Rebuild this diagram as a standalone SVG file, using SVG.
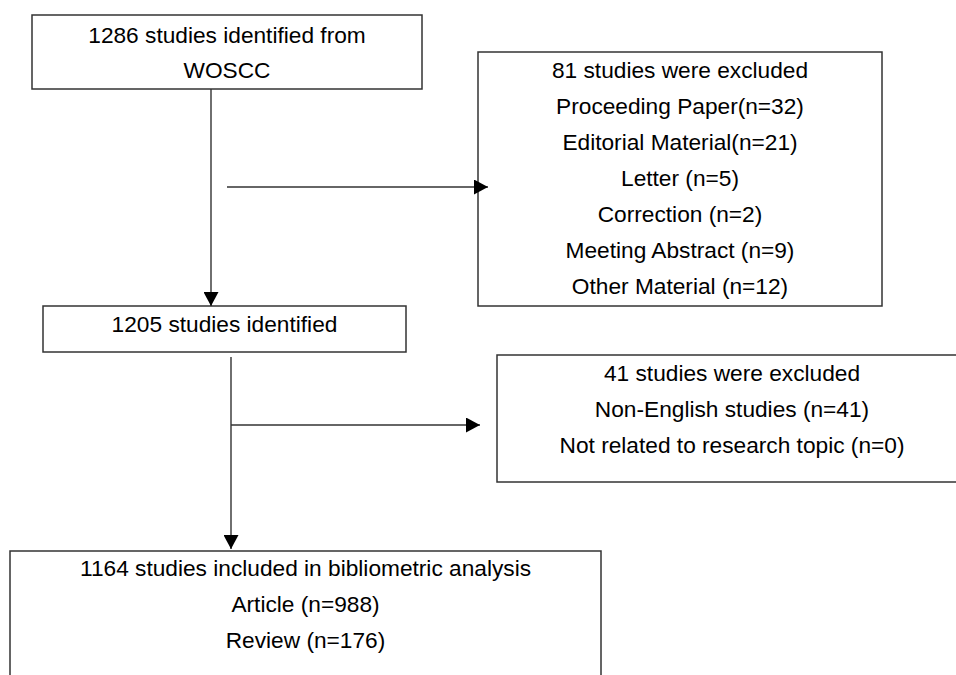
<svg xmlns="http://www.w3.org/2000/svg" width="956" height="675" viewBox="0 0 956 675">
  <style>
    .box { fill: #ffffff; stroke: #333333; stroke-width: 1.5; }
    .lbl { font-family: "Liberation Sans", Arial, sans-serif; font-size: 22.7px; fill: #000000; text-anchor: middle; }
    .conn { stroke: #333333; stroke-width: 1.4; fill: none; }
  </style>
  <defs>
    <marker id="arrow" markerUnits="userSpaceOnUse" markerWidth="14" markerHeight="15" refX="14" refY="7.5" orient="auto">
      <path d="M0,0 L14,7.5 L0,15 Z" fill="#000000"/>
    </marker>
  </defs>
  <rect width="956" height="675" fill="#ffffff"/>

  <g id="node-woscc">
    <rect class="box" x="32" y="15" width="390" height="74"/>
    <text class="lbl" x="227" y="43">1286 studies identified from</text>
    <text class="lbl" x="227" y="78">WOSCC</text>
  </g>

  <g id="node-excluded1">
    <rect class="box" x="478" y="52" width="404" height="254"/>
    <text class="lbl" x="680" y="78">81 studies were excluded</text>
    <text class="lbl" x="680" y="114">Proceeding Paper(n=32)</text>
    <text class="lbl" x="680" y="150">Editorial Material(n=21)</text>
    <text class="lbl" x="680" y="186">Letter (n=5)</text>
    <text class="lbl" x="680" y="222">Correction (n=2)</text>
    <text class="lbl" x="680" y="258">Meeting Abstract (n=9)</text>
    <text class="lbl" x="680" y="294">Other Material (n=12)</text>
  </g>

  <g id="node-identified">
    <rect class="box" x="43" y="306" width="363" height="46"/>
    <text class="lbl" x="224.5" y="332">1205 studies identified</text>
  </g>

  <g id="node-excluded2">
    <rect class="box" x="497" y="355" width="470" height="127"/>
    <text class="lbl" x="732" y="381">41 studies were excluded</text>
    <text class="lbl" x="732" y="417">Non-English studies (n=41)</text>
    <text class="lbl" x="732" y="453">Not related to research topic (n=0)</text>
  </g>

  <g id="node-included">
    <rect class="box" x="10" y="551" width="591" height="140"/>
    <text class="lbl" x="305.5" y="576">1164 studies included in bibliometric analysis</text>
    <text class="lbl" x="305.5" y="612">Article (n=988)</text>
    <text class="lbl" x="305.5" y="648">Review (n=176)</text>
  </g>

  <g id="connectors">
    <line class="conn" x1="211" y1="89" x2="211" y2="306" marker-end="url(#arrow)"/>
    <line class="conn" x1="227" y1="187" x2="488" y2="187" marker-end="url(#arrow)"/>
    <line class="conn" x1="231" y1="357" x2="231" y2="549" marker-end="url(#arrow)"/>
    <line class="conn" x1="231" y1="425" x2="480" y2="425" marker-end="url(#arrow)"/>
  </g>
</svg>
